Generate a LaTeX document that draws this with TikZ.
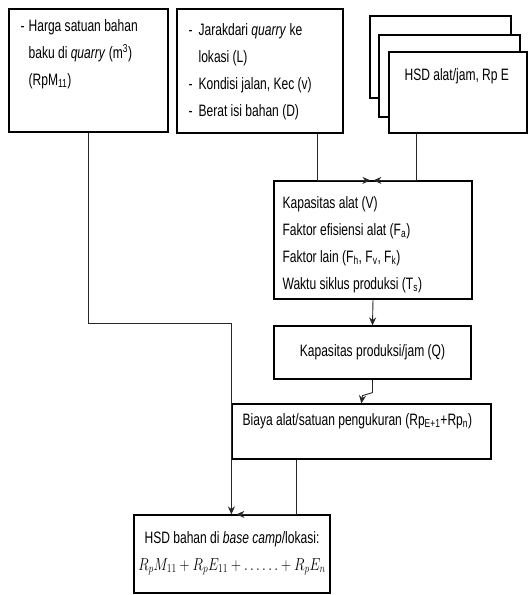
\documentclass[tikz,border=0pt]{standalone}
\usepackage{fontspec}
\setmainfont{Liberation Sans}[FakeStretch=0.73]
\usepackage{amsmath}
\usepackage{graphicx}
\usetikzlibrary{arrows.meta,positioning,calc}
\tikzset{
  box/.style={draw, line width=1.2pt, fill=white, inner sep=0pt},
  txt/.style={inner sep=0pt, align=left, font=\fontsize{16.5}{27}\selectfont},
  link/.style={black!85, line width=0.9pt, >={Stealth[length=8pt,width=7pt]}},
}

\begin{document}
\begin{tikzpicture}[x=1pt,y=-1pt]
\useasboundingbox (0,0) rectangle (528,595);

% input boxes
\node[box, minimum width=159pt, minimum height=123pt] (harga) at (88.5,70.5) {};
\node[txt, anchor=base west] (hargaTxt) at ([xshift=12pt,yshift=-23pt]harga.north west)
  {\begin{tabular}[t]{@{}l@{\hspace{4pt}}l@{}}
   - & Harga satuan bahan\\
     & baku di \textit{quarry} (m\textsuperscript{3})\\
     & (RpM\textsubscript{11})
   \end{tabular}};

\node[box, minimum width=166pt, minimum height=124pt] (jarak) at (260,71) {};
\node[txt, anchor=base west] (jarakTxt) at ([xshift=12pt,yshift=-27pt]jarak.north west)
  {\begin{tabular}[t]{@{}l@{\hspace{6pt}}l@{}}
   - & Jarakdari \textit{quarry} ke\\
     & lokasi (L)\\
   - & Kondisi jalan, Kec (v)\\
   - & Berat isi bahan (D)
   \end{tabular}};

% stacked equipment boxes
\node[box, minimum width=141pt, minimum height=82pt] (alatC) at (440.5,57) {};
\node[box, minimum width=141pt, minimum height=82pt] (alatB) at (449.5,76) {};
\node[box, minimum width=138pt, minimum height=81pt] (alat) at (458,92.5) {};
\node[txt, anchor=base west] (alatTxt) at ([xshift=16pt,yshift=-29pt]alat.north west)
  {HSD alat/jam, Rp E};

% process boxes
\node[box, minimum width=198pt, minimum height=118pt] (kap) at (373,240) {};
\node[txt, anchor=base west] (kapTxt) at ([xshift=9pt,yshift=-28pt]kap.north west)
  {\begin{tabular}[t]{@{}l@{}}
   Kapasitas alat (V)\\
   Faktor efisiensi alat (F\textsubscript{a})\\
   Faktor lain (F\textsubscript{h}, F\textsubscript{v}, F\textsubscript{k})\\
   Waktu siklus produksi (T\textsubscript{s})
   \end{tabular}};

\node[box, txt, minimum width=197pt, minimum height=53pt] (prod) at (372.5,352.5)
  {Kapasitas produksi/jam (Q)};

\node[box, minimum width=259pt, minimum height=55pt] (biaya) at (361.5,431.5) {};
\node[txt, anchor=base west] (biayaTxt) at ([xshift=11pt,yshift=-22pt]biaya.north west)
  {Biaya alat/satuan pengukuran (Rp\textsubscript{E+1}+Rp\textsubscript{n})};

\node[box, minimum width=196pt, minimum height=78pt] (bahan) at (232,554) {};
\node[txt, anchor=base] (bahanTxt) at ([yshift=-29pt]bahan.north)
  {\begin{tabular}[t]{@{}c@{}}
   HSD bahan di \textit{base camp}/lokasi:\\
   \scalebox{0.8}[1]{$R_pM_{11} + R_pE_{11} + \ldots\ldots + R_pE_n$}
   \end{tabular}};

% connectors
\draw[link,->] ([xshift=57pt]jarak.south) |- ([xshift=97pt]kap.north west);
\draw[link,->] ([xshift=-42pt]alat.south) |- ([xshift=100pt]kap.north west);
\draw[link,->] (kap.south) -- (prod.north);
\draw[link,->] (prod.south) -- ++(0,13) -- ++(-10,3) -- ([xshift=130pt]biaya.north west);
\draw[link,->] (harga.south) -- ++(0,191) -| (biaya.south west |- bahan.north);
\draw[link,->] ([xshift=65pt]biaya.south west) |- ([xshift=5pt]biaya.south west |- bahan.north);
\end{tikzpicture}
\end{document}
